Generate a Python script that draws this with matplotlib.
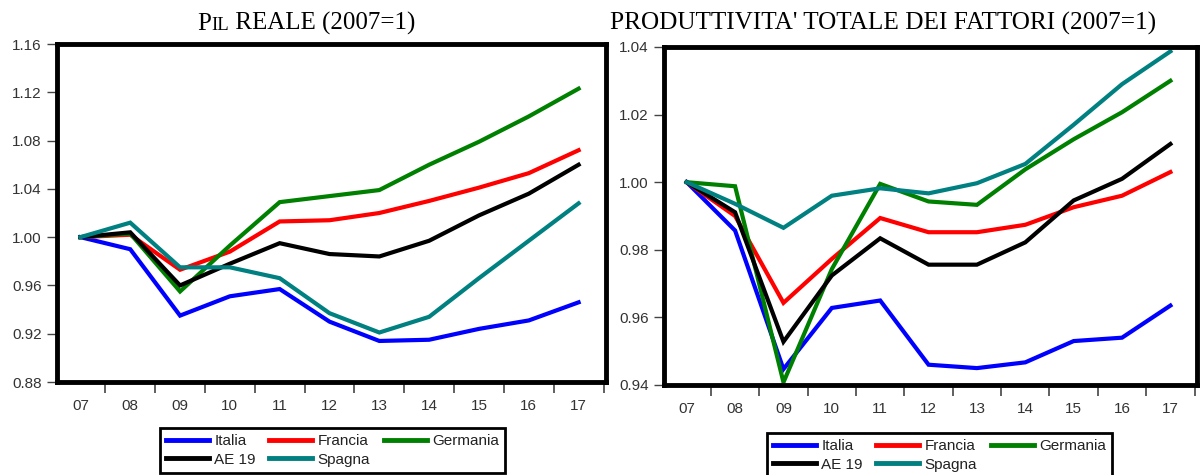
import matplotlib
matplotlib.use("Agg")
import matplotlib.pyplot as plt
from matplotlib.ticker import FixedLocator, NullFormatter

years = ["07", "08", "09", "10", "11", "12", "13", "14", "15", "16", "17"]

# PIL reale (2007=1)
pil_italia   = [1.000, 0.990, 0.935, 0.951, 0.957, 0.930, 0.914, 0.915, 0.924, 0.931, 0.946]
pil_francia  = [1.000, 1.002, 0.973, 0.988, 1.013, 1.014, 1.020, 1.030, 1.041, 1.053, 1.072]
pil_germania = [1.000, 1.003, 0.955, 0.993, 1.029, 1.034, 1.039, 1.060, 1.079, 1.100, 1.123]
pil_ae19     = [1.000, 1.004, 0.960, 0.978, 0.995, 0.986, 0.984, 0.997, 1.018, 1.036, 1.060]
pil_spagna   = [1.000, 1.012, 0.975, 0.975, 0.966, 0.937, 0.921, 0.934, 0.966, 0.997, 1.028]

# Produttivita' totale dei fattori (2007=1)
ptf_italia   = [1.000, 0.9857, 0.9447, 0.9628, 0.9650, 0.9460, 0.9450, 0.9467, 0.9530, 0.9540, 0.9635]
ptf_francia  = [1.000, 0.9900, 0.9643, 0.9773, 0.9894, 0.9852, 0.9852, 0.9874, 0.9926, 0.9960, 1.0030]
ptf_germania = [1.000, 0.9988, 0.9408, 0.9743, 0.9995, 0.9943, 0.9933, 1.0038, 1.0127, 1.0207, 1.0300]
ptf_ae19     = [1.000, 0.9911, 0.9528, 0.9724, 0.9834, 0.9756, 0.9756, 0.9822, 0.9946, 1.0010, 1.0113]
ptf_spagna   = [1.000, 0.9936, 0.9865, 0.9960, 0.9982, 0.9967, 0.9997, 1.0054, 1.0170, 1.0290, 1.0387]

labels = ["Italia", "Francia", "Germania", "AE 19", "Spagna"]
colors = ["#0000ff", "#ff0000", "#008000", "#000000", "#008080"]

pil_yticks = [0.88, 0.92, 0.96, 1.00, 1.04, 1.08, 1.12, 1.16]
ptf_yticks = [0.94, 0.96, 0.98, 1.00, 1.02, 1.04]

W, H = 1203, 475
fig = plt.figure(figsize=(W / 100, H / 100), dpi=100)

def px_axes(x0, y0, x1, y1):
    return fig.add_axes([x0 / W, 1 - y1 / H, (x1 - x0) / W, (y1 - y0) / H])

ax1 = px_axes(57, 44, 606, 382)
ax2 = px_axes(664, 47, 1197, 385)

tick_font = dict(family="Liberation Sans", size=11)

def style(ax, series, yticks, ylim, fmt):
    x = list(range(len(years)))
    for s, c, l in zip(series, colors, labels):
        ax.plot(x, s, color=c, lw=3.0, label=l, solid_joinstyle="miter")
    ax.set_xlim(-0.47, len(years) - 0.45)
    ax.set_ylim(*ylim)
    ax.set_yticks(yticks)
    ax.set_yticklabels([fmt % v for v in yticks], **tick_font, color="#333333")
    ax.set_xticks(x)
    ax.set_xticklabels(years, **tick_font, color="#333333")
    ax.xaxis.set_minor_locator(FixedLocator([i - 0.5 for i in range(len(years) + 1)]))
    ax.xaxis.set_minor_formatter(NullFormatter())
    ax.tick_params(axis="x", which="major", length=0, pad=12)
    ax.tick_params(axis="x", which="minor", length=8, width=1.2, direction="out",
                   color="#444444")
    ax.tick_params(axis="y", length=7, width=1.0, direction="out", pad=4,
                   color="#444444")
    for sp in ax.spines.values():
        sp.set_linewidth(3.5)
        sp.set_color("black")

style(ax1, [pil_italia, pil_francia, pil_germania, pil_ae19, pil_spagna],
      pil_yticks, (0.88, 1.16), "%.2f")
style(ax2, [ptf_italia, ptf_francia, ptf_germania, ptf_ae19, ptf_spagna],
      ptf_yticks, (0.94, 1.04), "%.2f")

def legend(ax, x0, y0):
    handles, labs = ax.get_legend_handles_labels()
    order = [0, 3, 1, 4, 2]  # row-wise: Italia Francia Germania / AE 19 Spagna
    lg = ax.legend([handles[i] for i in order], [labs[i] for i in order],
                   loc="upper left", bbox_to_anchor=(x0 / W, 1 - y0 / H),
                   bbox_transform=fig.transFigure, ncol=3, frameon=True,
                   fancybox=False, edgecolor="black", framealpha=1,
                   prop=dict(family="Liberation Sans", size=11),
                   handlelength=2.8, handletextpad=0.35, columnspacing=0.9,
                   labelspacing=0.3, borderpad=0.4, borderaxespad=0)
    lg.get_frame().set_linewidth(2.0)
    for h in lg.legend_handles:
        h.set_linewidth(3.5)
    for t in lg.get_texts():
        t.set_color("#222222")
    return lg

legend(ax1, 160, 428)
legend(ax2, 767, 433)

# Titles
fig.canvas.draw()
r = fig.canvas.get_renderer()

def title_parts(parts, cx, y):
    texts = []
    widths = []
    for s, size in parts:
        t = fig.text(0, 0, s, fontsize=size, family="Liberation Serif", va="baseline")
        widths.append(t.get_window_extent(r).width)
        texts.append(t)
    total = sum(widths)
    x = cx - total / 2
    for t, w in zip(texts, widths):
        t.set_position((x / W, 1 - y / H))
        x += w

title_parts([("P", 18), ("IL", 13.5), (" REALE (2007=1)", 18)], 306, 30)
title_parts([("PRODUTTIVITA' TOTALE DEI FATTORI (2007=1)", 18.2)], 883, 30)

fig.savefig("out.png", dpi=100)
